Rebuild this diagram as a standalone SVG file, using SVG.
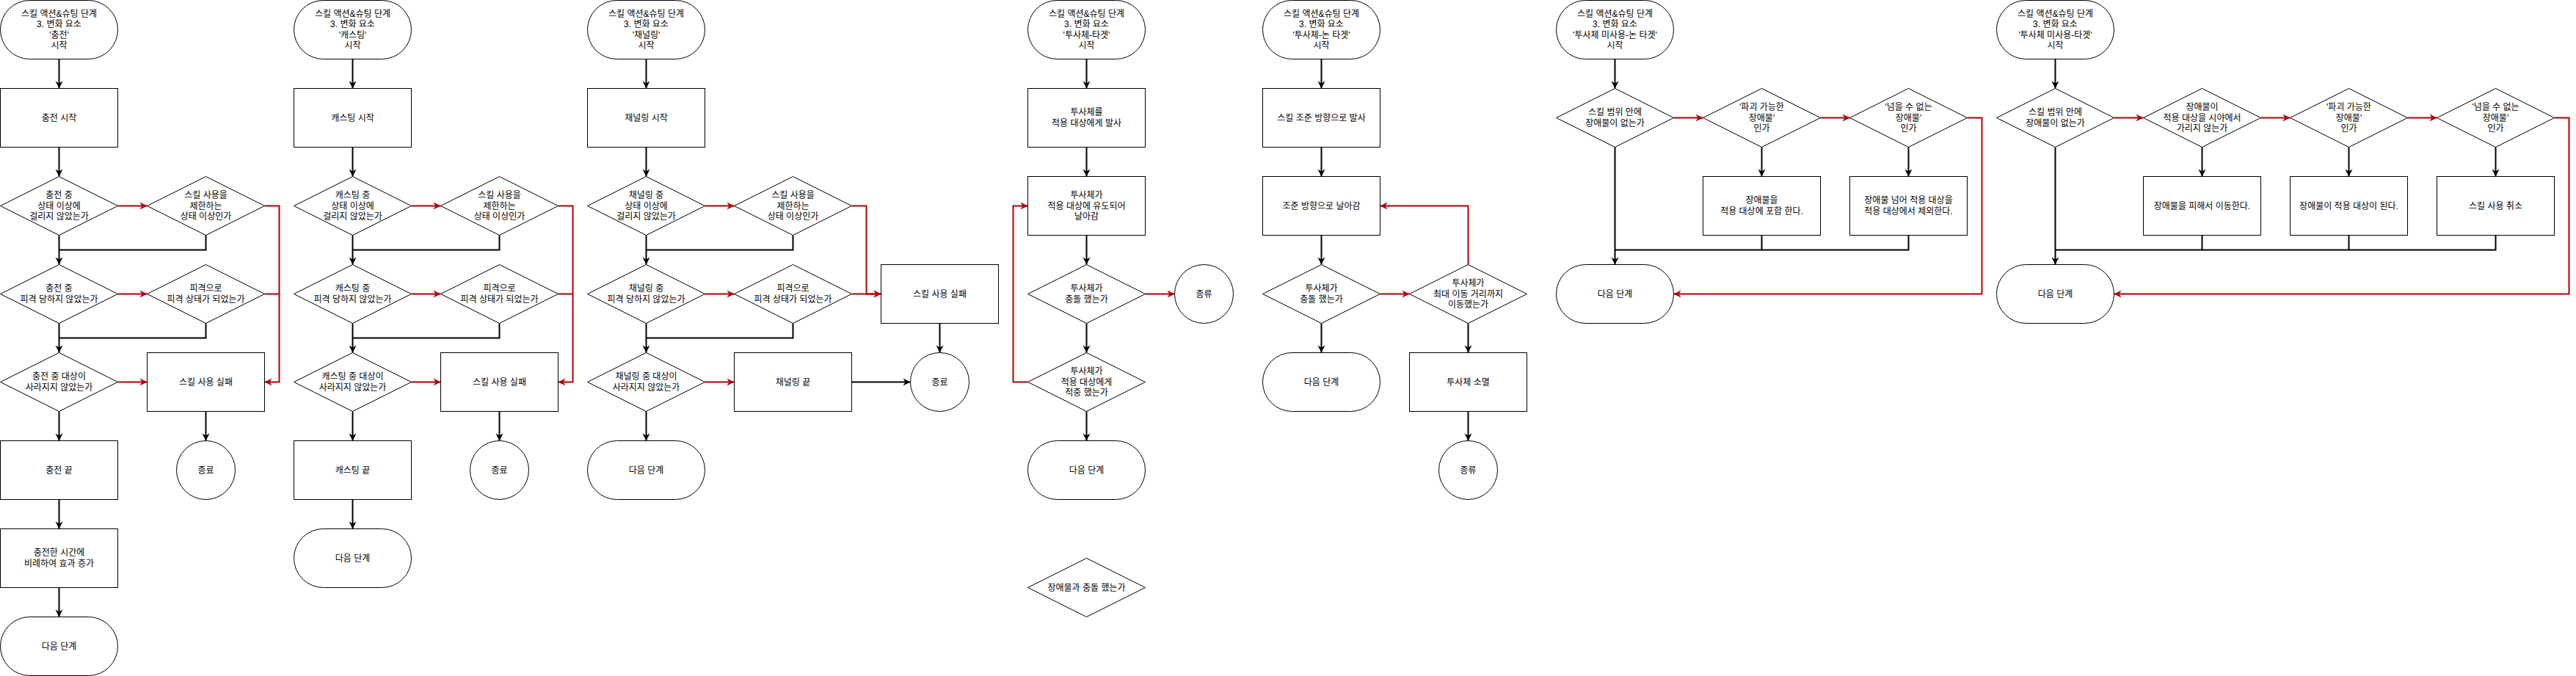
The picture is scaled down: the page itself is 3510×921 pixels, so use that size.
<svg xmlns="http://www.w3.org/2000/svg" width="3510" height="921" viewBox="0 0 3510 921">
<style>
.s{fill:#fff;stroke:#000;stroke-width:1}
.t{font-family:"Liberation Sans","Noto Sans CJK KR",sans-serif;font-size:12px;text-anchor:middle;dominant-baseline:central;fill:#000}
.c{fill:none;stroke:#000;stroke-width:2}
.r{fill:none;stroke:#B20000;stroke-width:2}
</style>
<defs>
<marker id="ab" markerUnits="userSpaceOnUse" viewBox="0 0 12 12" markerWidth="12" markerHeight="12" refX="11" refY="6" orient="auto"><path d="M1,1 L11,6 L1,11 L4,6 Z" fill="#000"/></marker>
<marker id="ar" markerUnits="userSpaceOnUse" viewBox="0 0 12 12" markerWidth="12" markerHeight="12" refX="11" refY="6" orient="auto"><path d="M1,1 L11,6 L1,11 L4,6 Z" fill="#B20000"/></marker>
</defs>
<rect x="0" y="0" width="3510" height="921" fill="#fff"/>
<g transform="translate(0.5,0.5)">
<g id="connectors">
<!-- col1 -->
<path class="c" d="M80,80V120" marker-end="url(#ab)"/>
<path class="c" d="M80,200V240" marker-end="url(#ab)"/>
<path class="r" d="M160,280H200" marker-end="url(#ar)"/>
<path class="c" d="M80,320V360" marker-end="url(#ab)"/>
<path class="c" d="M280,320V340H80"/>
<path class="r" d="M360,280H380V520H360" marker-end="url(#ar)"/>
<path class="r" d="M160,400H200" marker-end="url(#ar)"/>
<path class="r" d="M360,400H380"/>
<path class="c" d="M80,440V480" marker-end="url(#ab)"/>
<path class="c" d="M280,440V460H80"/>
<path class="r" d="M160,520H200" marker-end="url(#ar)"/>
<path class="c" d="M280,560V600" marker-end="url(#ab)"/>
<path class="c" d="M80,560V600" marker-end="url(#ab)"/>
<path class="c" d="M80,680V720" marker-end="url(#ab)"/>
<path class="c" d="M80,800V840" marker-end="url(#ab)"/>
<!-- col2 -->
<path class="c" d="M480,80V120" marker-end="url(#ab)"/>
<path class="c" d="M480,200V240" marker-end="url(#ab)"/>
<path class="r" d="M560,280H600" marker-end="url(#ar)"/>
<path class="c" d="M480,320V360" marker-end="url(#ab)"/>
<path class="c" d="M680,320V340H480"/>
<path class="r" d="M760,280H780V520H760" marker-end="url(#ar)"/>
<path class="r" d="M560,400H600" marker-end="url(#ar)"/>
<path class="r" d="M760,400H780"/>
<path class="c" d="M480,440V480" marker-end="url(#ab)"/>
<path class="c" d="M680,440V460H480"/>
<path class="r" d="M560,520H600" marker-end="url(#ar)"/>
<path class="c" d="M680,560V600" marker-end="url(#ab)"/>
<path class="c" d="M480,560V600" marker-end="url(#ab)"/>
<path class="c" d="M480,680V720" marker-end="url(#ab)"/>
<!-- col3 -->
<path class="c" d="M880,80V120" marker-end="url(#ab)"/>
<path class="c" d="M880,200V240" marker-end="url(#ab)"/>
<path class="r" d="M960,280H1000" marker-end="url(#ar)"/>
<path class="c" d="M880,320V360" marker-end="url(#ab)"/>
<path class="c" d="M1080,320V340H880"/>
<path class="r" d="M1160,280H1180V400H1200" marker-end="url(#ar)"/>
<path class="r" d="M960,400H1000" marker-end="url(#ar)"/>
<path class="r" d="M1160,400H1200" marker-end="url(#ar)"/>
<path class="c" d="M880,440V480" marker-end="url(#ab)"/>
<path class="c" d="M1080,440V460H880"/>
<path class="r" d="M960,520H1000" marker-end="url(#ar)"/>
<path class="c" d="M1160,520H1240" marker-end="url(#ab)"/>
<path class="c" d="M1280,440V480" marker-end="url(#ab)"/>
<path class="c" d="M880,560V600" marker-end="url(#ab)"/>
<!-- col4 -->
<path class="c" d="M1480,80V120" marker-end="url(#ab)"/>
<path class="c" d="M1480,200V240" marker-end="url(#ab)"/>
<path class="c" d="M1480,320V360" marker-end="url(#ab)"/>
<path class="r" d="M1560,400H1600" marker-end="url(#ar)"/>
<path class="c" d="M1480,440V480" marker-end="url(#ab)"/>
<path class="r" d="M1400,520H1380V280H1400" marker-end="url(#ar)"/>
<path class="c" d="M1480,560V600" marker-end="url(#ab)"/>
<!-- col5 -->
<path class="c" d="M1800,80V120" marker-end="url(#ab)"/>
<path class="c" d="M1800,200V240" marker-end="url(#ab)"/>
<path class="c" d="M1800,320V360" marker-end="url(#ab)"/>
<path class="r" d="M1880,400H1920" marker-end="url(#ar)"/>
<path class="r" d="M2000,360V280H1880" marker-end="url(#ar)"/>
<path class="c" d="M1800,440V480" marker-end="url(#ab)"/>
<path class="c" d="M2000,440V480" marker-end="url(#ab)"/>
<path class="c" d="M2000,560V600" marker-end="url(#ab)"/>
<!-- col6 -->
<path class="c" d="M2200,80V120" marker-end="url(#ab)"/>
<path class="r" d="M2280,160H2320" marker-end="url(#ar)"/>
<path class="r" d="M2480,160H2520" marker-end="url(#ar)"/>
<path class="c" d="M2400,200V240" marker-end="url(#ab)"/>
<path class="c" d="M2600,200V240" marker-end="url(#ab)"/>
<path class="c" d="M2200,200V360" marker-end="url(#ab)"/>
<path class="c" d="M2400,320V340H2200"/>
<path class="c" d="M2600,320V340H2400"/>
<path class="r" d="M2680,160H2700V400H2280" marker-end="url(#ar)"/>
<!-- col7 -->
<path class="c" d="M2800,80V120" marker-end="url(#ab)"/>
<path class="r" d="M2880,160H2920" marker-end="url(#ar)"/>
<path class="r" d="M3080,160H3120" marker-end="url(#ar)"/>
<path class="r" d="M3280,160H3320" marker-end="url(#ar)"/>
<path class="c" d="M3000,200V240" marker-end="url(#ab)"/>
<path class="c" d="M3200,200V240" marker-end="url(#ab)"/>
<path class="c" d="M3400,200V240" marker-end="url(#ab)"/>
<path class="c" d="M2800,200V360" marker-end="url(#ab)"/>
<path class="c" d="M3000,320V340H2800"/>
<path class="c" d="M3200,320V340H3000"/>
<path class="c" d="M3400,320V340H3200"/>
<path class="r" d="M3480,160H3500V400H2880" marker-end="url(#ar)"/>
</g>

<!-- ===== Column 1 ===== -->
<g id="c1-start"><rect class="s" x="0" y="0" width="160" height="80" rx="40"/><text class="t"><tspan x="80" y="18.4">스킬 액션&amp;슈팅 단계</tspan><tspan x="80" y="32.8">3. 변화 요소</tspan><tspan x="80" y="47.2">'충전'</tspan><tspan x="80" y="61.6">시작</tspan></text></g>
<g id="c1-begin"><rect class="s" x="0" y="120" width="160" height="80"/><text class="t" x="80" y="160">충전 시작</text></g>
<g id="c1-d1"><polygon class="s" points="0,280 80,240 160,280 80,320"/><text class="t"><tspan x="80" y="265.6">충전 중</tspan><tspan x="80" y="280">상태 이상에</tspan><tspan x="80" y="294.4">걸리지 않았는가</tspan></text></g>
<g id="c1-d1b"><polygon class="s" points="200,280 280,240 360,280 280,320"/><text class="t"><tspan x="280" y="265.6">스킬 사용을</tspan><tspan x="280" y="280">제한하는</tspan><tspan x="280" y="294.4">상태 이상인가</tspan></text></g>
<g id="c1-d2"><polygon class="s" points="0,400 80,360 160,400 80,440"/><text class="t"><tspan x="80" y="392.8">충전 중</tspan><tspan x="80" y="407.2">피격 당하지 않았는가</tspan></text></g>
<g id="c1-d2b"><polygon class="s" points="200,400 280,360 360,400 280,440"/><text class="t"><tspan x="280" y="392.8">피격으로</tspan><tspan x="280" y="407.2">피격 상태가 되었는가</tspan></text></g>
<g id="c1-d3"><polygon class="s" points="0,520 80,480 160,520 80,560"/><text class="t"><tspan x="80" y="512.8">충전 중 대상이</tspan><tspan x="80" y="527.2">사라지지 않았는가</tspan></text></g>
<g id="c1-fail"><rect class="s" x="200" y="480" width="160" height="80"/><text class="t" x="280" y="520">스킬 사용 실패</text></g>
<g id="c1-end"><circle class="s" cx="280" cy="640" r="40"/><text class="t" x="280" y="640">종료</text></g>
<g id="c1-done"><rect class="s" x="0" y="600" width="160" height="80"/><text class="t" x="80" y="640">충전 끝</text></g>
<g id="c1-effect"><rect class="s" x="0" y="720" width="160" height="80"/><text class="t"><tspan x="80" y="752.8">충전한 시간에</tspan><tspan x="80" y="767.2">비례하여 효과 증가</tspan></text></g>
<g id="c1-next"><rect class="s" x="0" y="840" width="160" height="80" rx="40"/><text class="t" x="80" y="880">다음 단계</text></g>

<!-- ===== Column 2 ===== -->
<g id="c2-start"><rect class="s" x="400" y="0" width="160" height="80" rx="40"/><text class="t"><tspan x="480" y="18.4">스킬 액션&amp;슈팅 단계</tspan><tspan x="480" y="32.8">3. 변화 요소</tspan><tspan x="480" y="47.2">'캐스팅'</tspan><tspan x="480" y="61.6">시작</tspan></text></g>
<g id="c2-begin"><rect class="s" x="400" y="120" width="160" height="80"/><text class="t" x="480" y="160">캐스팅 시작</text></g>
<g id="c2-d1"><polygon class="s" points="400,280 480,240 560,280 480,320"/><text class="t"><tspan x="480" y="265.6">캐스팅 중</tspan><tspan x="480" y="280">상태 이상에</tspan><tspan x="480" y="294.4">걸리지 않았는가</tspan></text></g>
<g id="c2-d1b"><polygon class="s" points="600,280 680,240 760,280 680,320"/><text class="t"><tspan x="680" y="265.6">스킬 사용을</tspan><tspan x="680" y="280">제한하는</tspan><tspan x="680" y="294.4">상태 이상인가</tspan></text></g>
<g id="c2-d2"><polygon class="s" points="400,400 480,360 560,400 480,440"/><text class="t"><tspan x="480" y="392.8">캐스팅 중</tspan><tspan x="480" y="407.2">피격 당하지 않았는가</tspan></text></g>
<g id="c2-d2b"><polygon class="s" points="600,400 680,360 760,400 680,440"/><text class="t"><tspan x="680" y="392.8">피격으로</tspan><tspan x="680" y="407.2">피격 상태가 되었는가</tspan></text></g>
<g id="c2-d3"><polygon class="s" points="400,520 480,480 560,520 480,560"/><text class="t"><tspan x="480" y="512.8">캐스팅 중 대상이</tspan><tspan x="480" y="527.2">사라지지 않았는가</tspan></text></g>
<g id="c2-fail"><rect class="s" x="600" y="480" width="160" height="80"/><text class="t" x="680" y="520">스킬 사용 실패</text></g>
<g id="c2-end"><circle class="s" cx="680" cy="640" r="40"/><text class="t" x="680" y="640">종료</text></g>
<g id="c2-done"><rect class="s" x="400" y="600" width="160" height="80"/><text class="t" x="480" y="640">캐스팅 끝</text></g>
<g id="c2-next"><rect class="s" x="400" y="720" width="160" height="80" rx="40"/><text class="t" x="480" y="760">다음 단계</text></g>

<!-- ===== Column 3 ===== -->
<g id="c3-start"><rect class="s" x="800" y="0" width="160" height="80" rx="40"/><text class="t"><tspan x="880" y="18.4">스킬 액션&amp;슈팅 단계</tspan><tspan x="880" y="32.8">3. 변화 요소</tspan><tspan x="880" y="47.2">'채널링'</tspan><tspan x="880" y="61.6">시작</tspan></text></g>
<g id="c3-begin"><rect class="s" x="800" y="120" width="160" height="80"/><text class="t" x="880" y="160">채널링 시작</text></g>
<g id="c3-d1"><polygon class="s" points="800,280 880,240 960,280 880,320"/><text class="t"><tspan x="880" y="265.6">채널링 중</tspan><tspan x="880" y="280">상태 이상에</tspan><tspan x="880" y="294.4">걸리지 않았는가</tspan></text></g>
<g id="c3-d1b"><polygon class="s" points="1000,280 1080,240 1160,280 1080,320"/><text class="t"><tspan x="1080" y="265.6">스킬 사용을</tspan><tspan x="1080" y="280">제한하는</tspan><tspan x="1080" y="294.4">상태 이상인가</tspan></text></g>
<g id="c3-d2"><polygon class="s" points="800,400 880,360 960,400 880,440"/><text class="t"><tspan x="880" y="392.8">채널링 중</tspan><tspan x="880" y="407.2">피격 당하지 않았는가</tspan></text></g>
<g id="c3-d2b"><polygon class="s" points="1000,400 1080,360 1160,400 1080,440"/><text class="t"><tspan x="1080" y="392.8">피격으로</tspan><tspan x="1080" y="407.2">피격 상태가 되었는가</tspan></text></g>
<g id="c3-fail"><rect class="s" x="1200" y="360" width="160" height="80"/><text class="t" x="1280" y="400">스킬 사용 실패</text></g>
<g id="c3-d3"><polygon class="s" points="800,520 880,480 960,520 880,560"/><text class="t"><tspan x="880" y="512.8">채널링 중 대상이</tspan><tspan x="880" y="527.2">사라지지 않았는가</tspan></text></g>
<g id="c3-done"><rect class="s" x="1000" y="480" width="160" height="80"/><text class="t" x="1080" y="520">채널링 끝</text></g>
<g id="c3-end"><circle class="s" cx="1280" cy="520" r="40"/><text class="t" x="1280" y="520">종료</text></g>
<g id="c3-next"><rect class="s" x="800" y="600" width="160" height="80" rx="40"/><text class="t" x="880" y="640">다음 단계</text></g>

<!-- ===== Column 4 ===== -->
<g id="c4-start"><rect class="s" x="1400" y="0" width="160" height="80" rx="40"/><text class="t"><tspan x="1480" y="18.4">스킬 액션&amp;슈팅 단계</tspan><tspan x="1480" y="32.8">3. 변화 요소</tspan><tspan x="1480" y="47.2">'투사체-타겟'</tspan><tspan x="1480" y="61.6">시작</tspan></text></g>
<g id="c4-fire"><rect class="s" x="1400" y="120" width="160" height="80"/><text class="t"><tspan x="1480" y="152.8">투사체를</tspan><tspan x="1480" y="167.2">적용 대상에게 발사</tspan></text></g>
<g id="c4-fly"><rect class="s" x="1400" y="240" width="160" height="80"/><text class="t"><tspan x="1480" y="265.6">투사체가</tspan><tspan x="1480" y="280">적용 대상에 유도되어</tspan><tspan x="1480" y="294.4">날아감</tspan></text></g>
<g id="c4-d1"><polygon class="s" points="1400,400 1480,360 1560,400 1480,440"/><text class="t"><tspan x="1480" y="392.8">투사체가</tspan><tspan x="1480" y="407.2">충돌 했는가</tspan></text></g>
<g id="c4-end"><circle class="s" cx="1640" cy="400" r="40"/><text class="t" x="1640" y="400">종류</text></g>
<g id="c4-d2"><polygon class="s" points="1400,520 1480,480 1560,520 1480,560"/><text class="t"><tspan x="1480" y="505.6">투사체가</tspan><tspan x="1480" y="520">적용 대상에게</tspan><tspan x="1480" y="534.4">적중 했는가</tspan></text></g>
<g id="c4-next"><rect class="s" x="1400" y="600" width="160" height="80" rx="40"/><text class="t" x="1480" y="640">다음 단계</text></g>
<g id="c4-obst"><polygon class="s" points="1400,800 1480,760 1560,800 1480,840"/><text class="t" x="1480" y="800">장애물과 충돌 했는가</text></g>

<!-- ===== Column 5 ===== -->
<g id="c5-start"><rect class="s" x="1720" y="0" width="160" height="80" rx="40"/><text class="t"><tspan x="1800" y="18.4">스킬 액션&amp;슈팅 단계</tspan><tspan x="1800" y="32.8">3. 변화 요소</tspan><tspan x="1800" y="47.2">'투사체-논 타겟'</tspan><tspan x="1800" y="61.6">시작</tspan></text></g>
<g id="c5-fire"><rect class="s" x="1720" y="120" width="160" height="80"/><text class="t" x="1800" y="160">스킬 조준 방향으로 발사</text></g>
<g id="c5-fly"><rect class="s" x="1720" y="240" width="160" height="80"/><text class="t" x="1800" y="280">조준 방향으로 날아감</text></g>
<g id="c5-d1"><polygon class="s" points="1720,400 1800,360 1880,400 1800,440"/><text class="t"><tspan x="1800" y="392.8">투사체가</tspan><tspan x="1800" y="407.2">충돌 했는가</tspan></text></g>
<g id="c5-d2"><polygon class="s" points="1920,400 2000,360 2080,400 2000,440"/><text class="t"><tspan x="2000" y="385.6">투사체가</tspan><tspan x="2000" y="400">최대 이동 거리까지</tspan><tspan x="2000" y="414.4">이동했는가</tspan></text></g>
<g id="c5-next"><rect class="s" x="1720" y="480" width="160" height="80" rx="40"/><text class="t" x="1800" y="520">다음 단계</text></g>
<g id="c5-vanish"><rect class="s" x="1920" y="480" width="160" height="80"/><text class="t" x="2000" y="520">투사체 소멸</text></g>
<g id="c5-end"><circle class="s" cx="2000" cy="640" r="40"/><text class="t" x="2000" y="640">종류</text></g>

<!-- ===== Column 6 ===== -->
<g id="c6-start"><rect class="s" x="2120" y="0" width="160" height="80" rx="40"/><text class="t"><tspan x="2200" y="18.4">스킬 액션&amp;슈팅 단계</tspan><tspan x="2200" y="32.8">3. 변화 요소</tspan><tspan x="2200" y="47.2">'투사체 미사용-논 타겟'</tspan><tspan x="2200" y="61.6">시작</tspan></text></g>
<g id="c6-d1"><polygon class="s" points="2120,160 2200,120 2280,160 2200,200"/><text class="t"><tspan x="2200" y="152.8">스킬 범위 안에</tspan><tspan x="2200" y="167.2">장애물이 없는가</tspan></text></g>
<g id="c6-d2"><polygon class="s" points="2320,160 2400,120 2480,160 2400,200"/><text class="t"><tspan x="2400" y="145.6">'파괴 가능한</tspan><tspan x="2400" y="160">장애물'</tspan><tspan x="2400" y="174.4">인가</tspan></text></g>
<g id="c6-d3"><polygon class="s" points="2520,160 2600,120 2680,160 2600,200"/><text class="t"><tspan x="2600" y="145.6">'넘을 수 없는</tspan><tspan x="2600" y="160">장애물'</tspan><tspan x="2600" y="174.4">인가</tspan></text></g>
<g id="c6-include"><rect class="s" x="2320" y="240" width="160" height="80"/><text class="t"><tspan x="2400" y="272.8">장애물을</tspan><tspan x="2400" y="287.2">적용 대상에 포함 한다.</tspan></text></g>
<g id="c6-exclude"><rect class="s" x="2520" y="240" width="160" height="80"/><text class="t"><tspan x="2600" y="272.8">장애물 넘어 적용 대상을</tspan><tspan x="2600" y="287.2">적용 대상에서 제외한다.</tspan></text></g>
<g id="c6-next"><rect class="s" x="2120" y="360" width="160" height="80" rx="40"/><text class="t" x="2200" y="400">다음 단계</text></g>

<!-- ===== Column 7 ===== -->
<g id="c7-start"><rect class="s" x="2720" y="0" width="160" height="80" rx="40"/><text class="t"><tspan x="2800" y="18.4">스킬 액션&amp;슈팅 단계</tspan><tspan x="2800" y="32.8">3. 변화 요소</tspan><tspan x="2800" y="47.2">'투사체 미사용-타겟'</tspan><tspan x="2800" y="61.6">시작</tspan></text></g>
<g id="c7-d1"><polygon class="s" points="2720,160 2800,120 2880,160 2800,200"/><text class="t"><tspan x="2800" y="152.8">스킬 범위 안에</tspan><tspan x="2800" y="167.2">장애물이 없는가</tspan></text></g>
<g id="c7-d2"><polygon class="s" points="2920,160 3000,120 3080,160 3000,200"/><text class="t"><tspan x="3000" y="145.6">장애물이</tspan><tspan x="3000" y="160">적용 대상을 시야에서</tspan><tspan x="3000" y="174.4">가리지 않는가</tspan></text></g>
<g id="c7-d3"><polygon class="s" points="3120,160 3200,120 3280,160 3200,200"/><text class="t"><tspan x="3200" y="145.6">'파괴 가능한</tspan><tspan x="3200" y="160">장애물'</tspan><tspan x="3200" y="174.4">인가</tspan></text></g>
<g id="c7-d4"><polygon class="s" points="3320,160 3400,120 3480,160 3400,200"/><text class="t"><tspan x="3400" y="145.6">'넘을 수 없는</tspan><tspan x="3400" y="160">장애물'</tspan><tspan x="3400" y="174.4">인가</tspan></text></g>
<g id="c7-avoid"><rect class="s" x="2920" y="240" width="160" height="80"/><text class="t" x="3000" y="280">장애물을 피해서 이동한다.</text></g>
<g id="c7-target"><rect class="s" x="3120" y="240" width="160" height="80"/><text class="t" x="3200" y="280">장애물이 적용 대상이 된다.</text></g>
<g id="c7-cancel"><rect class="s" x="3320" y="240" width="160" height="80"/><text class="t" x="3400" y="280">스킬 사용 취소</text></g>
<g id="c7-next"><rect class="s" x="2720" y="360" width="160" height="80" rx="40"/><text class="t" x="2800" y="400">다음 단계</text></g>
</g>
</svg>
